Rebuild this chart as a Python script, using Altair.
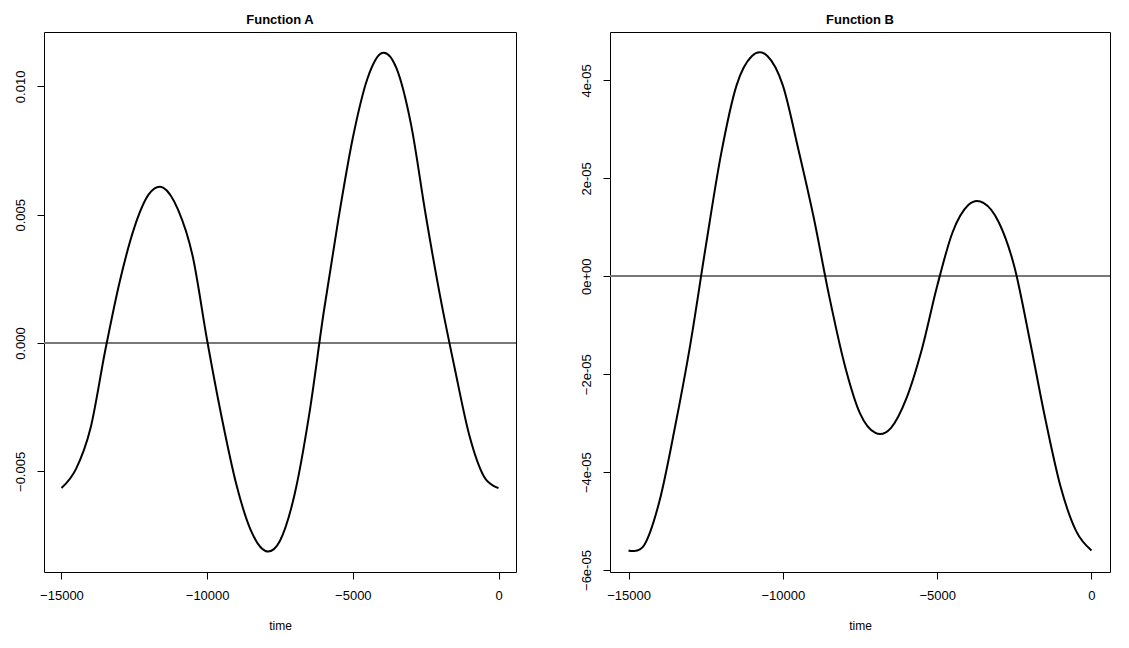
import pandas as pd
import altair as alt

time = list(range(-15000, 1, 500))

# Function A, in units of 1e-3
func_a = [-5.65, -4.9, -3.3, -0.3, 2.4, 4.5, 5.8, 6.05, 5.2, 3.4, 0.1,
          -2.9, -5.5, -7.3, -8.1, -7.7, -5.9, -2.8, 1.2, 4.8, 8.0, 10.3,
          11.3, 10.7, 8.5, 5.0, 1.8, -1.0, -3.6, -5.2, -5.65]

# Function B, in units of 1e-5
func_b = [-5.6, -5.5, -4.6, -3.1, -1.4, 0.6, 2.5, 3.9, 4.5, 4.5, 3.9,
          2.6, 1.2, -0.4, -1.8, -2.8, -3.2, -3.1, -2.5, -1.5, -0.2, 0.9,
          1.45, 1.5, 1.1, 0.2, -1.3, -2.9, -4.3, -5.2, -5.6]

df_a = pd.DataFrame({"time": time, "value": [v * 1e-3 for v in func_a]})
df_b = pd.DataFrame({"time": time, "value": [v * 1e-5 for v in func_b]})

FONT = "Liberation Sans"
H = 540


def panel(df, title, ydomain, yticks, label_expr, w):
    x = alt.X("time:Q", title="time",
              scale=alt.Scale(domain=[-15600, 600], nice=False, zero=False),
              axis=alt.Axis(values=[-15000, -10000, -5000, 0], grid=False,
                            domain=False, tickColor="black", tickSize=7,
                            format="d", labelPadding=10, titlePadding=18))
    y = alt.Y("value:Q", title=None,
              scale=alt.Scale(domain=ydomain, nice=False, zero=False),
              axis=alt.Axis(values=yticks, grid=False, domain=False,
                            tickColor="black", tickSize=7, labelAngle=270,
                            labelAlign="center", labelBaseline="bottom",
                            labelPadding=10, labelExpr=label_expr))
    line = alt.Chart(df).mark_line(color="black", strokeWidth=2,
                                   interpolate="cardinal").encode(x=x, y=y)
    zero = alt.Chart(df).mark_rule(color="#777777", strokeWidth=1).encode(
        y=alt.datum(0))
    return alt.layer(zero, line).properties(
        width=w, height=H,
        title=alt.TitleParams(title, fontSize=13, fontWeight="bold",
                              font=FONT, offset=5, color="black"))


a = panel(df_a, "Function A", [-0.00892, 0.01212],
          [-0.005, 0, 0.005, 0.01], "format(datum.value, '.3f')", 472)
b = panel(df_b, "Function B", [-6.04e-5, 4.99e-5],
          [-6e-5, -4e-5, -2e-5, 0, 2e-5, 4e-5],
          "datum.value == 0 ? '0e+00' : format(round(datum.value * 1e5), 'd') + 'e-05'",
          500)

chart = alt.hconcat(a, b, spacing=62).configure(
    background="white"
).configure_view(
    stroke="black", strokeWidth=1
).configure_axis(
    labelFont=FONT, titleFont=FONT, labelFontSize=13, titleFontSize=12,
    labelColor="black", titleColor="black", titleFontWeight="normal"
)

chart.save("out.html", embed_options={"renderer": "svg", "actions": False})
